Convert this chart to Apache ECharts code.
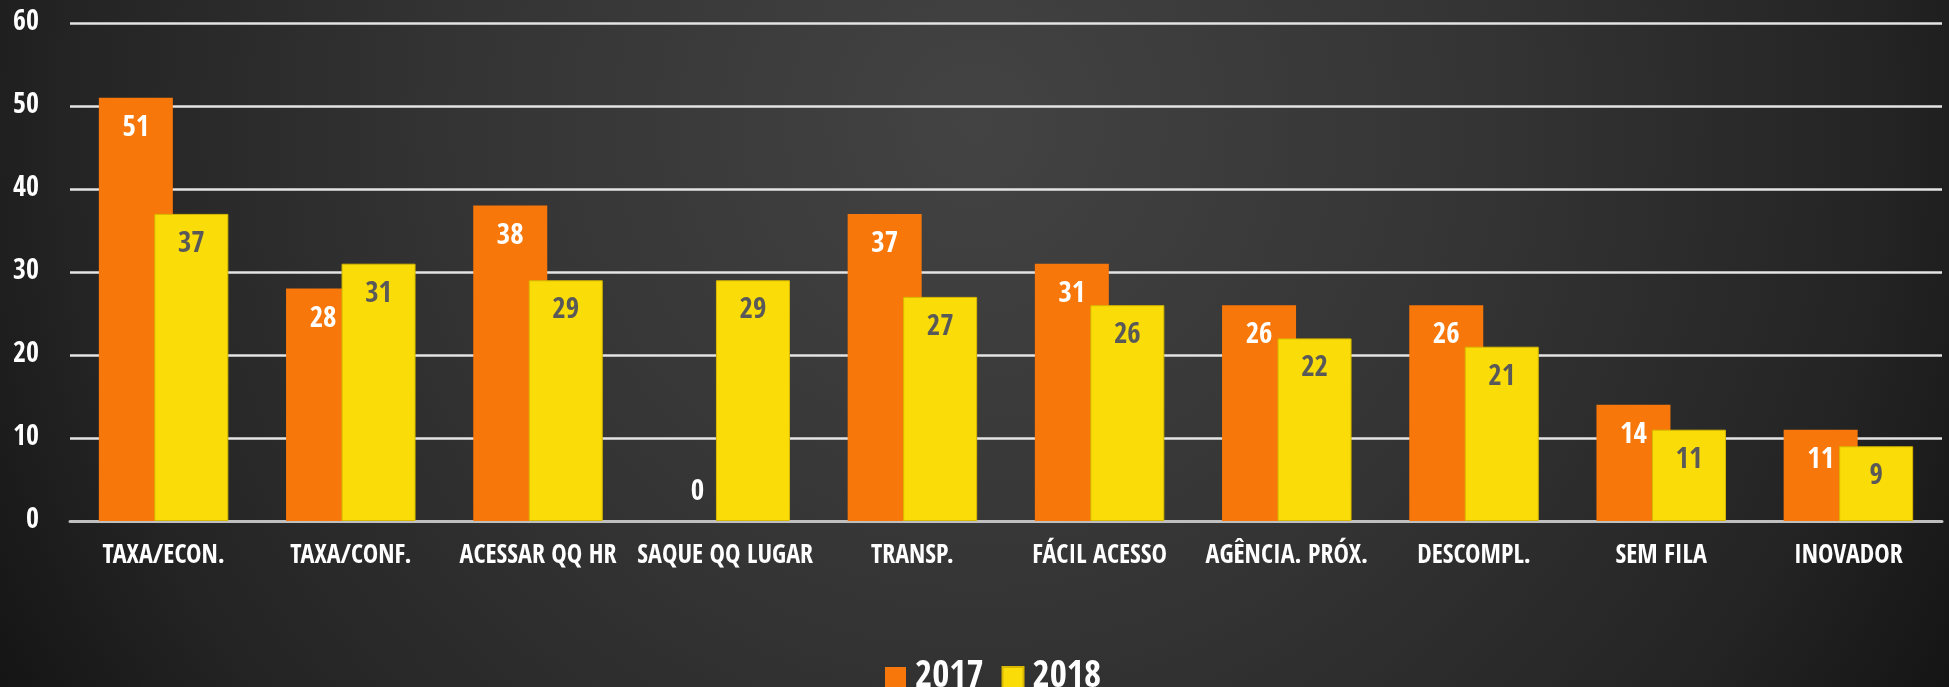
<!DOCTYPE html>
<html>
<head>
<meta charset="utf-8">
<script src="https://cdn.jsdelivr.net/npm/echarts@6/dist/echarts.min.js"></script>
<style>
html,body{margin:0;padding:0;background:#1a1a1a;}
#chart{width:1949px;height:687px;}
</style>
</head>
<body>
<div id="chart"></div>
<script>
const categories = ['TAXA/ECON.', 'TAXA/CONF.', 'ACESSAR QQ HR', 'SAQUE QQ LUGAR', 'TRANSP.', 'FÁCIL ACESSO', 'AGÊNCIA. PRÓX.', 'DESCOMPL.', 'SEM FILA', 'INOVADOR'];
const values2017 = [51, 28, 38, 0, 37, 31, 26, 26, 14, 11];
const values2018 = [37, 31, 29, 29, 27, 26, 22, 21, 11, 9];
const seriesNames = ['2017', '2018'];
const yTicks = { min: 0, max: 60, interval: 10 };

const FONT = '"Open Sans Condensed", "Roboto Condensed", sans-serif';

function toData(arr) {
  return arr.map(v => v === 0
    ? { value: v, label: { position: 'top', distance: 14 } }
    : v);
}

const chart = echarts.init(document.getElementById('chart'), null, { renderer: 'canvas' });
chart.setOption({
  backgroundColor: {
    type: 'radial', x: 0.5, y: 0.18, r: 1.65,
    colorStops: [
      { offset: 0, color: '#434343' },
      { offset: 0.45, color: '#343434' },
      { offset: 0.8, color: '#242424' },
      { offset: 1, color: '#141414' }
    ]
  },
  animation: false,
  textStyle: { fontFamily: FONT },
  grid: { left: 70, right: 7, top: 23, bottom: 166, containLabel: false },
  legend: {
    left: 880, top: 654,
    itemWidth: 21, itemHeight: 21, itemGap: 18,
    icon: 'rect',
    data: seriesNames,
    textStyle: { color: '#ffffff', fontSize: 37, fontWeight: 'bold', fontFamily: FONT, padding: [0, 0, 0, 4] }
  },
  xAxis: {
    type: 'category',
    data: categories,
    axisLine: { show: true, lineStyle: { color: '#bfbfbf', width: 3 } },
    axisTick: { show: false },
    axisLabel: { color: '#ffffff', fontSize: 26, fontWeight: 'bold', fontFamily: FONT, margin: 22, interval: 0 },
    splitLine: { show: false }
  },
  yAxis: {
    type: 'value',
    min: yTicks.min, max: yTicks.max, interval: yTicks.interval,
    axisLine: { show: false },
    axisTick: { show: false },
    axisLabel: { color: '#ffffff', fontSize: 28, fontWeight: 'bold', fontFamily: FONT, margin: 31 },
    splitLine: { show: true, lineStyle: { color: '#e4e4e4', width: 2.5 } }
  },
  series: [
    {
      name: seriesNames[0], type: 'bar', data: toData(values2017),
      barWidth: 74, barGap: '-25%',
      itemStyle: { color: '#f7770a' },
      label: { show: true, position: 'insideTop', distance: 16, color: '#ffffff', fontSize: 29, fontWeight: 'bold', fontFamily: FONT }
    },
    {
      name: seriesNames[1], type: 'bar', data: toData(values2018),
      barWidth: 74, barGap: '-25%',
      itemStyle: { color: '#f9dc08', borderColor: '#d8b800', borderWidth: 1 },
      label: { show: true, position: 'insideTop', distance: 16, color: '#595959', fontSize: 29, fontWeight: 'bold', fontFamily: FONT }
    }
  ]
});
</script>
</body>
</html>
